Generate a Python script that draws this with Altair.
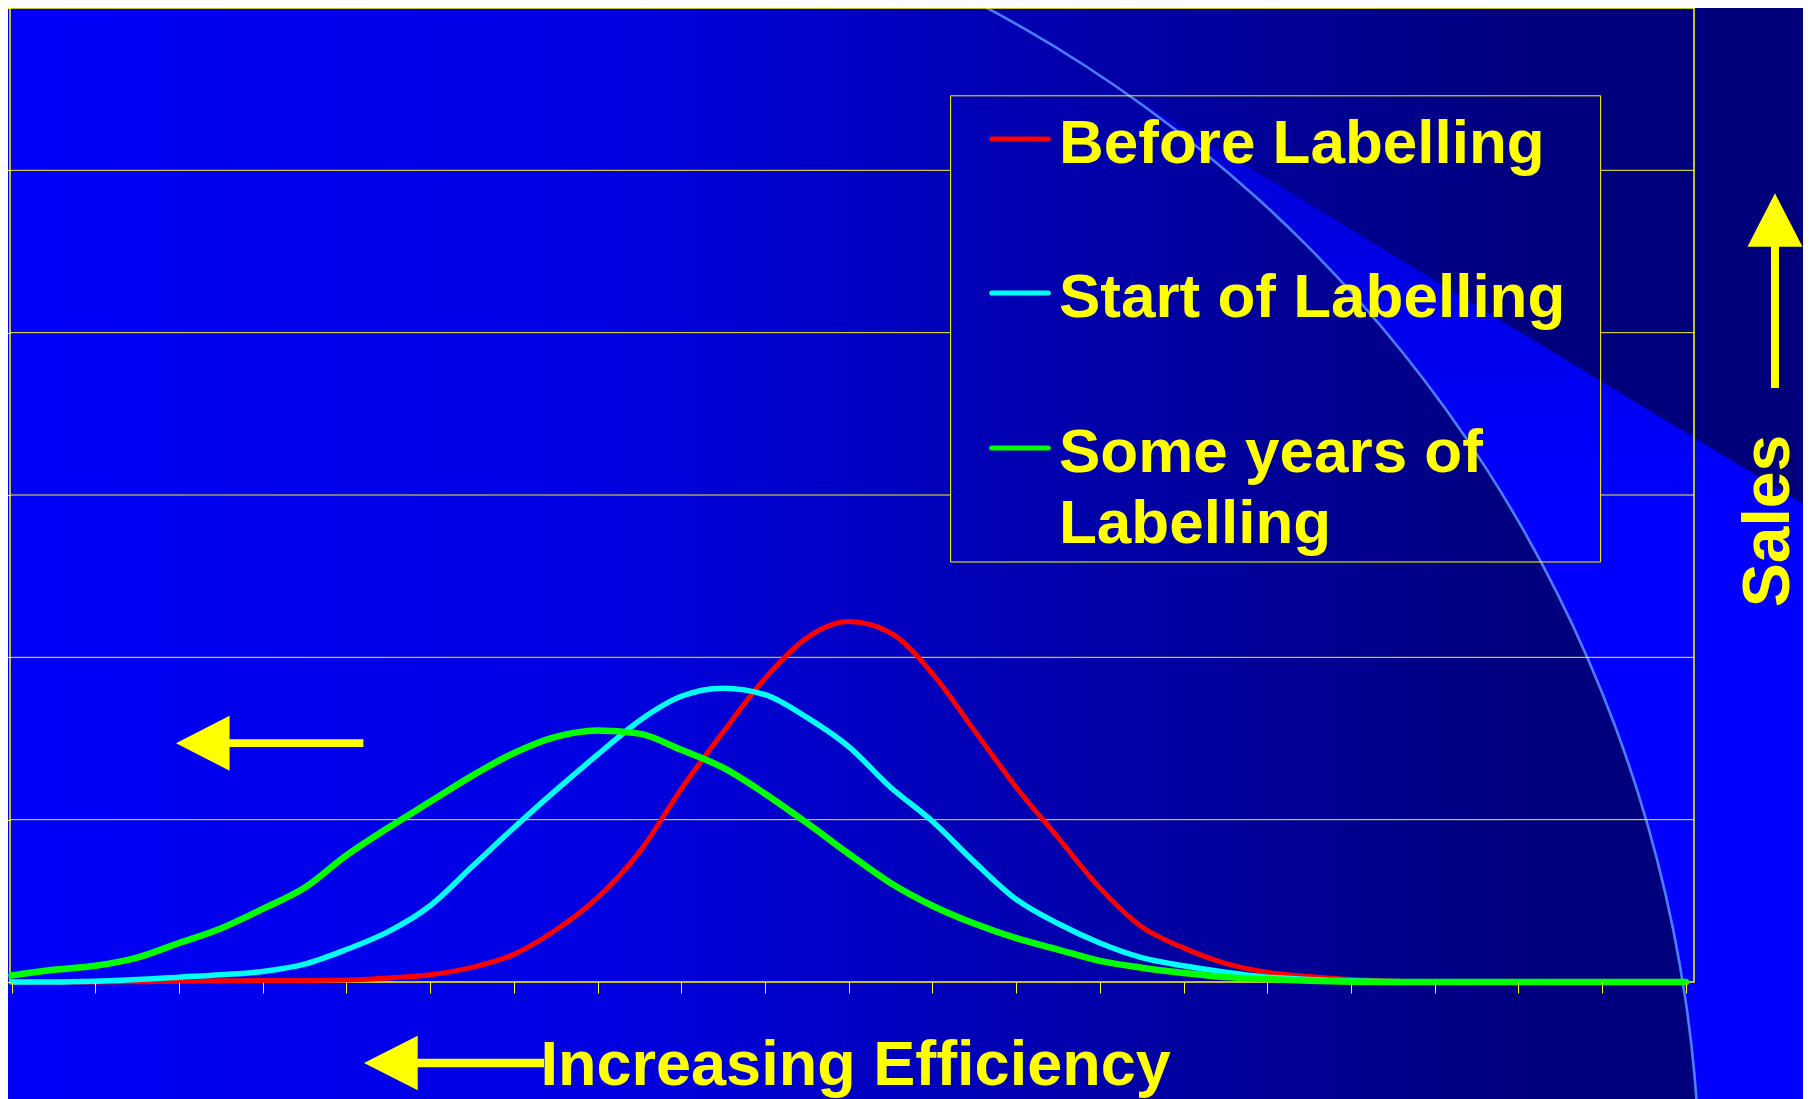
import altair as alt
import pandas as pd

# ---------------- values ----------------
positions = [0, 0.5, 1, 1.5, 2, 2.5, 3, 3.5, 4, 4.5, 5, 5.5, 6, 6.5, 7, 7.5, 8, 8.5, 9, 9.5,
             10, 10.5, 11, 11.5, 12, 12.5, 13, 13.5, 14, 14.5, 15, 15.5, 16, 16.5, 17, 17.5,
             18, 18.5, 19, 19.5, 20]
before_labelling = [0, 0, 0, 0.002, 0.005, 0.007, 0.01, 0.01, 0.012, 0.025, 0.045, 0.09, 0.17,
                    0.32, 0.52, 0.80, 1.19, 1.54, 1.87, 2.12, 2.22, 2.15, 1.90, 1.55, 1.20, 0.89,
                    0.58, 0.34, 0.21, 0.115, 0.06, 0.034, 0.015, 0.005, 0, 0, 0, 0, 0, 0, 0]
start_of_labelling = [0, 0, 0.005, 0.015, 0.03, 0.045, 0.065, 0.11, 0.20, 0.31, 0.47, 0.71, 0.95,
                      1.18, 1.40, 1.61, 1.76, 1.81, 1.77, 1.63, 1.45, 1.20, 0.99, 0.74, 0.51, 0.36,
                      0.24, 0.15, 0.10, 0.06, 0.03, 0.015, 0.007, 0.003, 0, 0, 0, 0, 0, 0, 0]
some_years_of_labelling = [0.04, 0.075, 0.10, 0.15, 0.24, 0.33, 0.45, 0.58, 0.78, 0.95, 1.11, 1.27,
                           1.41, 1.51, 1.55, 1.53, 1.43, 1.32, 1.16, 0.98, 0.79, 0.61, 0.47, 0.36,
                           0.27, 0.20, 0.13, 0.088, 0.056, 0.03, 0.018, 0.008, 0.002, 0, 0, 0, 0,
                           0, 0, 0, 0]
series_names = ["Before Labelling", "Start of Labelling", "Some years of Labelling"]
legend_labels = ["Before Labelling", "Start of Labelling", "Some years of\nLabelling"]
x_ticks = [0, 1, 2, 3, 4, 5, 6, 7, 8, 9, 10, 11, 12, 13, 14, 15, 16, 17, 18, 19, 20]
y_ticks = [0, 1, 2, 3, 4, 5, 6]
grid_levels = [1, 2, 3, 4, 5]

# ---------------- styles / layout ----------------
series_colors = ["#FF0000", "#00FFFF", "#00FF00"]
series_widths = [5, 5.5, 6.5]
YELLOW = "#FFFF00"
GRID = "#F4F428"
FONT = "Liberation Sans"
W, H = 1684, 974
X_DOMAIN = [-0.018, 20.097]
Y_DOMAIN = [0, 6]
LEGEND_X = [11.217, 18.981]          # legend box edges in x units (gridlines stop there)
LEGEND_ROWS_Y = [131, 285, 440]      # symbol centres (px, view)
LEGEND_TEXT_DY = 23.5

xscale = alt.Scale(domain=X_DOMAIN, nice=False, zero=False)
yscale = alt.Scale(domain=Y_DOMAIN, nice=False, zero=False)
color_scale = alt.Scale(domain=series_names, range=series_colors)

xaxis = alt.Axis(values=x_ticks, tickSize=11, tickColor=YELLOW, tickWidth=1, domain=False,
                 grid=False, labels=False, title="Increasing Efficiency", titleFont=FONT,
                 titleFontSize=63, titleFontWeight="bold", titleColor=YELLOW, titleX=530,
                 titleY=102, titleAlign="left", titleBaseline="alphabetic", zindex=1)
yaxis = alt.Axis(values=y_ticks, tickSize=8, tickColor=YELLOW, tickWidth=1, domain=False,
                 grid=False, labels=False, title="Sales", titleFont=FONT, titleFontSize=66,
                 titleFontWeight="bold", titleColor=YELLOW, titleAngle=270, titleX=1778,
                 titleY=512.5, titleAlign="center", titleBaseline="alphabetic", zindex=1)


def X(field):
    return alt.X(field, type="quantitative", scale=xscale, axis=xaxis)


def Y(field):
    return alt.Y(field, type="quantitative", scale=yscale, axis=yaxis)


def gradient(stops, x1, y1, x2, y2):
    return alt.LinearGradient(gradient="linear",
                              stops=[alt.GradientStop(color=c, offset=o) for o, c in stops],
                              x1=x1, y1=y1, x2=x2, y2=y2)


one = pd.DataFrame({"k": [0]})

# background: horizontal gradient across the whole canvas (view px -10..1801)
BG_LEFT, BG_RIGHT = -10, 1801
bg_stops = [(0.0, "#0000F8"), (0.33, "#0000E2"), (0.55, "#0000B4"), (0.72, "#000094"),
            (0.83, "#000080"), (1.0, "#00007A")]
background = alt.Chart(one).mark_rect(fill=gradient(bg_stops, 0, 0, 1, 0), strokeWidth=0).encode(
    x=alt.value(BG_LEFT), x2=alt.value(BG_RIGHT), y=alt.value(-8), y2=alt.value(1091))

# bright region outside the large circle
CX, CY, R = 342, 1189, 1348
ring = alt.Chart(one).mark_arc(
    radius=3000, radius2=R, theta=0, theta2=3.1416,
    fill=gradient([(0, "#0000C8"), (1, "#0000FF")], 0.5, 0.3005, 0.5, 0.3838),
).encode(x=alt.value(CX), y=alt.value(CY))

# dark triangle above the diagonal (same gradient as background)
TRI_L, TRI_R = 963, 1890
tri_df = pd.DataFrame({"px": [TRI_L, TRI_R], "py": [-30, -30], "py2": [-8, 554.7]})
tri_grad = gradient(bg_stops, (BG_LEFT - TRI_L) / (TRI_R - TRI_L), 0,
                    (BG_RIGHT - TRI_L) / (TRI_R - TRI_L), 0)
triangle = alt.Chart(tri_df).mark_area(fill=tri_grad, strokeWidth=0).encode(
    x=alt.X("px:Q", scale=None), y=alt.Y("py:Q", scale=None), y2="py2:Q")

# thin light arc
arc_line = alt.Chart(one).mark_arc(radius=R + 1.3, radius2=R - 1.3, theta=0.15, theta2=1.85,
                                   fill="#4A7DFF").encode(x=alt.value(CX), y=alt.value(CY))

# gridlines (interrupted by the legend box)
grid_rows = []
for g in grid_levels:
    if g >= 3:
        grid_rows.append({"v": g, "x0": X_DOMAIN[0], "x1": LEGEND_X[0]})
        grid_rows.append({"v": g, "x0": LEGEND_X[1], "x1": X_DOMAIN[1]})
    else:
        grid_rows.append({"v": g, "x0": X_DOMAIN[0], "x1": X_DOMAIN[1]})
grid = alt.Chart(pd.DataFrame(grid_rows)).mark_rule(color=GRID, strokeWidth=1).encode(
    x=X("x0"), x2="x1", y=Y("v"))

# plot border
border_df = pd.DataFrame({"x0": [X_DOMAIN[0]], "x1": [X_DOMAIN[1]],
                          "y0": [Y_DOMAIN[0]], "y1": [Y_DOMAIN[1]]})
border = alt.Chart(border_df).mark_rect(filled=False, stroke=YELLOW, strokeWidth=1.5).encode(
    x=X("x0"), x2="x1", y=Y("y0"), y2="y1")

# legend
legend_box = alt.Chart(one).mark_rect(filled=False, stroke=YELLOW, strokeWidth=1).encode(
    x=alt.value(940.6), x2=alt.value(1590.6), y=alt.value(87.8), y2=alt.value(554))
leg_df = pd.DataFrame({"series": series_names, "label": legend_labels,
                       "sy": LEGEND_ROWS_Y,
                       "ty": [v + LEGEND_TEXT_DY for v in LEGEND_ROWS_Y]})
legend_sym = alt.Chart(leg_df).mark_rule(strokeWidth=5, strokeCap="round").encode(
    x=alt.value(981.7), x2=alt.value(1038.3), y=alt.Y("sy:Q", scale=None),
    color=alt.Color("series:N", scale=color_scale, legend=None))
legend_txt = alt.Chart(leg_df).mark_text(
    font=FONT, fontSize=62, fontWeight="bold", color=YELLOW, align="left",
    baseline="alphabetic", lineBreak="\n", lineHeight=71).encode(
    x=alt.value(1049), y=alt.Y("ty:Q", scale=None), text="label:N")

# series lines
lines_df = pd.DataFrame({
    "pos": positions * 3,
    "value": before_labelling + start_of_labelling + some_years_of_labelling,
    "series": [n for n in series_names for _ in positions],
})
line_layers = []
for name, w in zip(series_names, series_widths):
    line_layers.append(
        alt.Chart(lines_df).transform_filter(alt.datum.series == name).mark_line(
            strokeWidth=w, interpolate="monotone", strokeJoin="round", strokeCap="round").encode(
            x=X("pos"), y=Y("value"),
            color=alt.Color("series:N", scale=color_scale, legend=None)))

# arrows (custom symbol paths)
LEFT_ARROW_PLOT = "M-1,0L-0.428,-0.2935L-0.428,-0.041L1,-0.041L1,0.041L-0.428,0.041L-0.428,0.2935Z"
LEFT_ARROW_TITLE = "M-1,0L-0.403,-0.302L-0.403,-0.048L1,-0.048L1,0.048L-0.403,0.048L-0.403,0.302Z"
UP_ARROW = "M0,-1L0.2825,-0.451L0.041,-0.451L0.041,1L-0.041,1L-0.041,-0.451L-0.2825,-0.451Z"

arrow_df = pd.DataFrame({"ax": [3.084], "ay": [1.471]})
arrow_plot = alt.Chart(arrow_df).mark_point(
    shape=LEFT_ARROW_PLOT, size=35119, filled=True, color=YELLOW, opacity=1, strokeWidth=0).encode(
    x=X("ax"), y=Y("ay"))
arrow_x = alt.Chart(one).mark_point(
    shape=LEFT_ARROW_TITLE, size=32400, filled=True, color=YELLOW, opacity=1, strokeWidth=0).encode(
    x=alt.value(444), y=alt.value(1055))
arrow_y = alt.Chart(one).mark_point(
    shape=UP_ARROW, size=37908, filled=True, color=YELLOW, opacity=1, strokeWidth=0).encode(
    x=alt.value(1765), y=alt.value(282.7))

chart = alt.layer(
    background, ring, triangle, arc_line, grid, border, legend_box, legend_sym, legend_txt,
    *line_layers, arrow_plot, arrow_x, arrow_y,
).properties(
    width=W, height=H,
    autosize=alt.AutoSizeParams(type="none"),
    padding={"left": 2, "top": 0, "right": 109, "bottom": 117},
    background="#0000F0",
).configure_view(strokeOpacity=0)

chart.save("out.html", embed_options={"renderer": "svg", "actions": False})
